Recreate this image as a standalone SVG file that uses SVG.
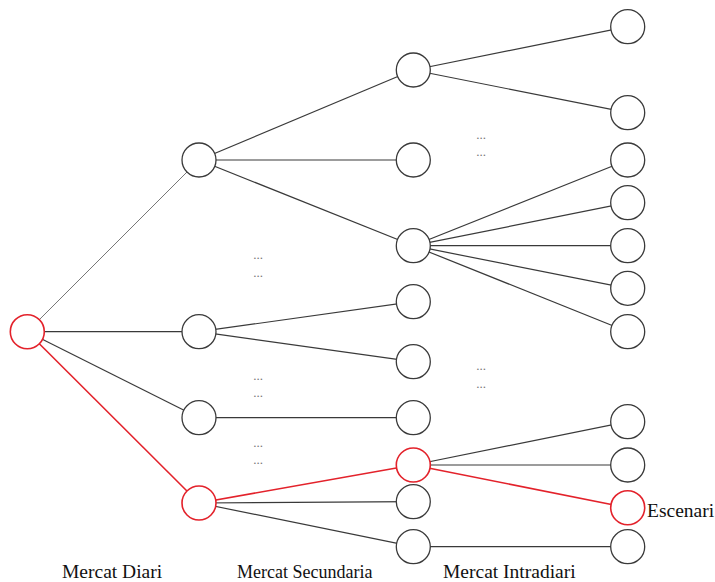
<svg xmlns="http://www.w3.org/2000/svg" width="715" height="582" viewBox="0 0 715 582">
<style>
.n{fill:#fff;stroke:#3a3a3a;stroke-width:1.3}
.r{fill:#fff;stroke:#e3222b;stroke-width:1.6}
.e line{stroke:#3a3a3a;stroke-width:1.2}
.e line.red{stroke:#e3222b;stroke-width:1.6}
.e line.light{stroke:#777;stroke-width:1}
.lbl{font-family:"Liberation Serif",serif;font-size:19.5px;fill:#111}
.dots{font-family:"Liberation Serif",serif;font-size:13px;fill:#777;text-anchor:middle}
</style>
<rect width="715" height="582" fill="#fff"/>
<g id="connectors" class="e">
<line class="light" x1="27.3" y1="331.7" x2="199" y2="160"/>
<line x1="27.3" y1="331.7" x2="199" y2="331.7"/>
<line x1="27.3" y1="331.7" x2="199" y2="417.7"/>
<line class="red" x1="27.3" y1="331.7" x2="199" y2="503"/>
<line x1="199" y1="160" x2="413.3" y2="70"/>
<line x1="199" y1="160" x2="413.3" y2="160"/>
<line x1="199" y1="160" x2="413.3" y2="245.7"/>
<line x1="199" y1="331.7" x2="413.3" y2="301.7"/>
<line x1="199" y1="331.7" x2="413.3" y2="361.7"/>
<line x1="199" y1="417.7" x2="413.3" y2="417.7"/>
<line class="red" x1="199" y1="503" x2="413.3" y2="465"/>
<line x1="199" y1="503" x2="413.3" y2="501.7"/>
<line x1="199" y1="503" x2="413.3" y2="546.7"/>
<line x1="413.3" y1="70" x2="627.7" y2="26.7"/>
<line x1="413.3" y1="70" x2="627.7" y2="112.7"/>
<line x1="413.3" y1="245.7" x2="627.7" y2="160"/>
<line x1="413.3" y1="245.7" x2="627.7" y2="202.7"/>
<line x1="413.3" y1="245.7" x2="627.7" y2="245.7"/>
<line x1="413.3" y1="245.7" x2="627.7" y2="288.3"/>
<line x1="413.3" y1="245.7" x2="627.7" y2="331.7"/>
<line x1="413.3" y1="465" x2="627.7" y2="421.7"/>
<line x1="413.3" y1="465" x2="627.7" y2="465"/>
<line class="red" x1="413.3" y1="465" x2="627.7" y2="507.7"/>
<line x1="413.3" y1="546.7" x2="627.7" y2="546.7"/>
</g>
<g id="root"><circle class="r" cx="27.3" cy="331.7" r="17"/></g>
<g id="d1"><circle class="n" cx="199" cy="160" r="17"/></g>
<g id="d2"><circle class="n" cx="199" cy="331.7" r="17"/></g>
<g id="d3"><circle class="n" cx="199" cy="417.7" r="17"/></g>
<g id="d4"><circle class="r" cx="199" cy="503" r="17"/></g>
<g id="s1"><circle class="n" cx="413.3" cy="70" r="17"/></g>
<g id="s2"><circle class="n" cx="413.3" cy="160" r="17"/></g>
<g id="s3"><circle class="n" cx="413.3" cy="245.7" r="17"/></g>
<g id="s4"><circle class="n" cx="413.3" cy="301.7" r="17"/></g>
<g id="s5"><circle class="n" cx="413.3" cy="361.7" r="17"/></g>
<g id="s6"><circle class="n" cx="413.3" cy="417.7" r="17"/></g>
<g id="s7"><circle class="r" cx="413.3" cy="465" r="17"/></g>
<g id="s8"><circle class="n" cx="413.3" cy="501.7" r="17"/></g>
<g id="s9"><circle class="n" cx="413.3" cy="546.7" r="17"/></g>
<g id="i1"><circle class="n" cx="627.7" cy="26.7" r="17"/></g>
<g id="i2"><circle class="n" cx="627.7" cy="112.7" r="17"/></g>
<g id="i3"><circle class="n" cx="627.7" cy="160" r="17"/></g>
<g id="i4"><circle class="n" cx="627.7" cy="202.7" r="17"/></g>
<g id="i5"><circle class="n" cx="627.7" cy="245.7" r="17"/></g>
<g id="i6"><circle class="n" cx="627.7" cy="288.3" r="17"/></g>
<g id="i7"><circle class="n" cx="627.7" cy="331.7" r="17"/></g>
<g id="i8"><circle class="n" cx="627.7" cy="421.7" r="17"/></g>
<g id="i9"><circle class="n" cx="627.7" cy="465" r="17"/></g>
<g id="i10"><circle class="r" cx="627.7" cy="507.7" r="17"/><text class="lbl" x="647" y="517">Escenari</text></g>
<g id="i11"><circle class="n" cx="627.7" cy="546.7" r="17"/></g>
<g id="ellipses">
<text class="dots" x="258" y="259">...</text>
<text class="dots" x="258" y="277">...</text>
<text class="dots" x="258" y="380">...</text>
<text class="dots" x="258" y="397">...</text>
<text class="dots" x="258" y="447">...</text>
<text class="dots" x="258" y="464">...</text>
<text class="dots" x="481" y="139">...</text>
<text class="dots" x="481" y="156">...</text>
<text class="dots" x="481" y="370">...</text>
<text class="dots" x="481" y="388">...</text>
</g>
<g id="labels">
<text class="lbl" x="62" y="578">Mercat Diari</text>
<text class="lbl" x="237" y="578" style="font-size:18px">Mercat Secundaria</text>
<text class="lbl" x="443" y="578">Mercat Intradiari</text>
</g>
</svg>
